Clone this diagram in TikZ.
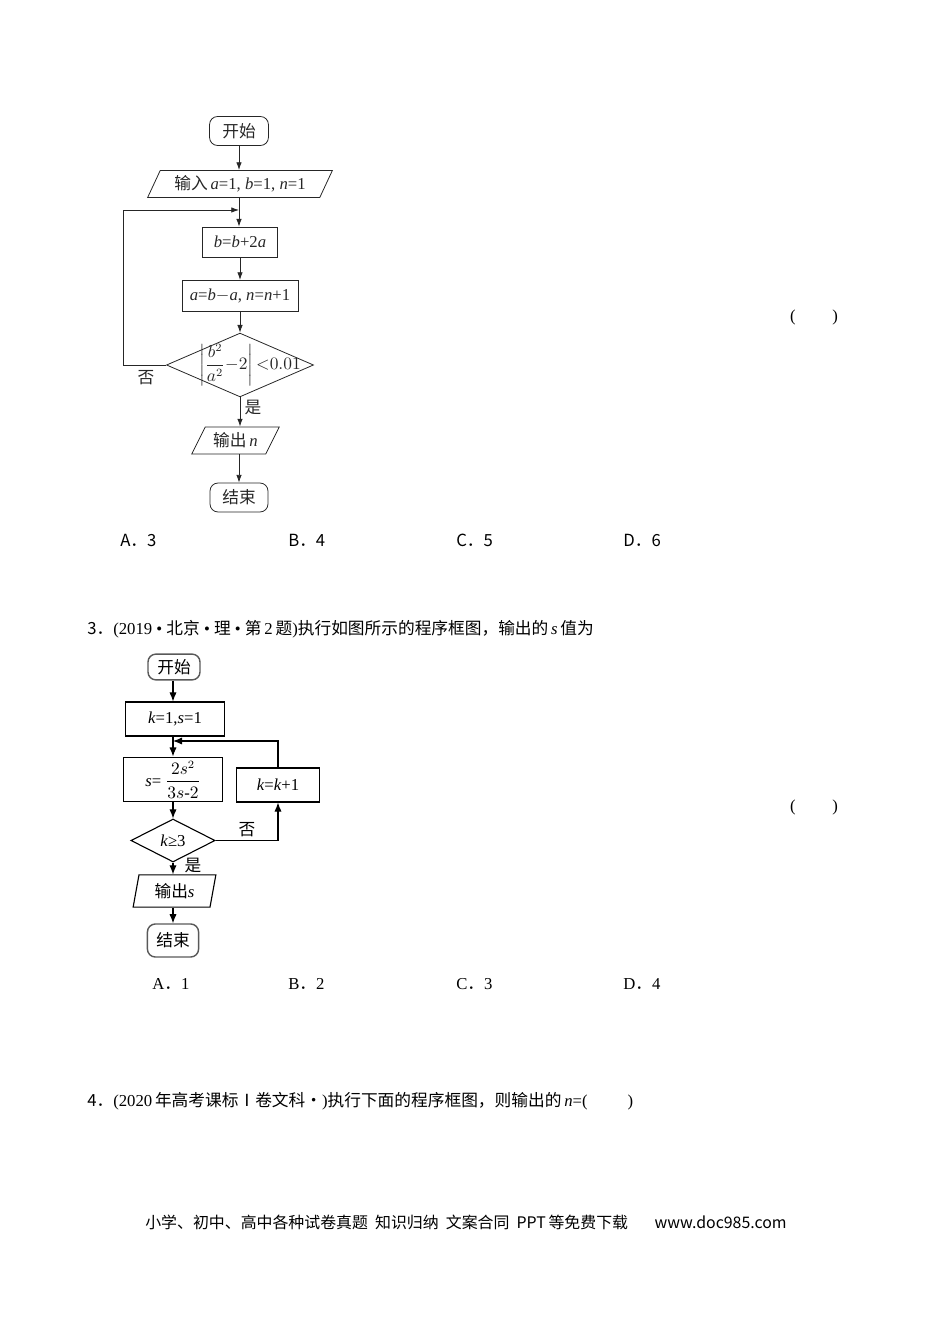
\documentclass[tikz,border=0pt]{standalone}
\usepackage{amsmath}
\usepackage{fontspec}
\setmainfont{Liberation Serif}
\newfontfamily\cjk{Noto Sans CJK SC}
\usetikzlibrary{shapes.geometric,arrows.meta}
\newcommand{\zh}[1]{{\cjk #1}}
\begin{document}
\begin{tikzpicture}[x=0.0221cm,y=-0.0221cm,
  every node/.style={font=\fontsize{10.5}{12}\selectfont,inner sep=0pt},
  proc/.style={draw,rectangle},
  term/.style={draw,rounded corners=5pt},
  termb/.style={draw=black!65,line width=0.9pt,rounded corners=5pt},
  io/.style={draw,trapezium,trapezium stretches=true},
  cond/.style={draw,diamond},
  flow/.style={-{Latex[length=1.7mm,width=1.2mm]}},
  flowb/.style={-{Latex[length=2mm,width=1.6mm]}}]
\useasboundingbox (0,0) rectangle (950,1344);
% first flowchart
\begin{scope}[black!85,line width=0.5pt]
\node[term,minimum width=1.30cm,minimum height=0.64cm] (st1) at (239,131) {\zh{开始}};
\node[io,trapezium left angle=58,trapezium right angle=122,minimum width=4.11cm,minimum height=0.6cm] (in1) at (240,184) {\zh{输入}\,\textit{a}=1, \textit{b}=1, \textit{n}=1};
\node[proc,minimum width=1.64cm,minimum height=0.66cm] (b1) at (240,242) {\textit{b}=\textit{b}+2\textit{a}};
\node[proc,minimum width=2.56cm,minimum height=0.69cm] (b2) at (240,296) {\textit{a}=\textit{b}$-$\textit{a}, \textit{n}=\textit{n}+1};
\node[cond,minimum width=3.25cm,minimum height=1.41cm] (d1) at (240,365) {};
\node (t1) at (250,365) {$\left|\dfrac{b^2}{a^2}{-}2\right|{<}0.01$};
\node[io,trapezium left angle=57,trapezium right angle=123,minimum width=1.94cm,minimum height=0.6cm] (o1) at (235.5,440.5) {\zh{输出}\,\textit{n}};
\node[term,minimum width=1.28cm,minimum height=0.64cm] (e1) at (239,497.5) {\zh{结束}};
\node (no1) at (146,378) {\zh{否}};
\node (yes1) at (253,408) {\zh{是}};
\coordinate (j1) at (239,210);
\coordinate (l1) at (123,210);
\draw[flow] (st1.south) -- (st1.south |- in1.north);
\draw[flow] (in1.south -| st1) -- (st1 |- b1.north);
\draw[flow] (b1.south) -- (b2.north);
\draw[flow] (b2.south) -- (d1.north);
\draw[flow] (d1.west) -| (l1) -- (j1);
\draw[flow] (d1.south) -- (d1.south |- o1.north);
\draw[flow] (e1.north |- o1.south) -- (e1.north);
\end{scope}
\node[anchor=west] (a1) at (120,540) {\zh{A．3}};
\node[anchor=west] (b1o) at (288,540) {\zh{B．4}};
\node[anchor=west] (c1o) at (456,540) {\zh{C．5}};
\node[anchor=west] (d1o) at (623,540) {\zh{D．6}};
\node (p1) at (814,317) {(\hspace{2.2em})};
% question 3
\node[anchor=west] (q3) at (87,629) {\zh{3．}(2019 • \zh{北京} • \zh{理} • \zh{第}\,2\,\zh{题})\zh{执行如图所示的程序框图，输出的}\,\textit{s}\,\zh{值为}};
% second flowchart
\begin{scope}[line width=0.7pt]
\node[termb,minimum width=1.15cm,minimum height=0.57cm] (st2) at (174,667) {\zh{开始}};
\node[proc,minimum width=2.17cm,minimum height=0.75cm] (i2) at (175,719) {\textit{k}=1,\textit{s}=1};
\node[proc,minimum width=2.17cm,minimum height=0.99cm] (c2) at (173,779.5) {\textit{s}=\ $\dfrac{2s^2}{3s\text{-}2}$};
\node[proc,minimum width=1.83cm,minimum height=0.75cm] (k2) at (278,785) {\textit{k}=\textit{k}+1};
\node[cond,minimum width=1.86cm,minimum height=0.95cm] (d2) at (173,840.5) {};
\node (t2) at (d2) {\textit{k}≥3};
\node[io,trapezium left angle=78,trapezium right angle=102,minimum width=1.83cm,minimum height=0.71cm] (o2) at (174.5,891) {\zh{输出}\textit{s}};
\node[termb,minimum width=1.13cm,minimum height=0.73cm] (e2) at (173,940.5) {\zh{结束}};
\node (no2) at (247,830) {\zh{否}};
\node (yes2) at (193,865) {\zh{是}};
\coordinate (j2) at (173,741);
\draw[flowb] (st2.south -| c2) -- (c2 |- i2.north);
\draw[flowb] (i2.south -| c2) -- (c2.north);
\draw[flowb] (k2.north) |- (j2);
\draw[flowb] (c2.south) -- (d2.north);
\draw[flowb] (d2.east) -| (k2.south);
\draw[flowb] (d2.south) -- (d2.south |- o2.north);
\draw[flowb] (o2.south -| e2) -- (e2.north);
\end{scope}
\node[anchor=west] (a2) at (152,984) {A\zh{．}1};
\node[anchor=west] (b2o) at (288,984) {B\zh{．}2};
\node[anchor=west] (c2o) at (456,984) {C\zh{．}3};
\node[anchor=west] (d2o) at (623,984) {D\zh{．}4};
\node (p2) at (814,807) {(\hspace{2.2em})};
% question 4
\node[anchor=west] (q4) at (87,1101) {\zh{4．}(2020\,\zh{年高考课标Ⅰ卷文科·})\zh{执行下面的程序框图，则输出的}\,\textit{n}=(\hspace{2.4em})};
% footer
\node[anchor=west,font=\fontsize{10}{12}\selectfont] (ft) at (145,1222) {\zh{小学、初中、高中各种试卷真题\ \ 知识归纳\ \ 文案合同\ \ PPT\,等免费下载}};
\node[anchor=east,font=\fontsize{10}{12}\selectfont] (url) at (787,1222) {\zh{www.doc985.com}};
\end{tikzpicture}
\end{document}
